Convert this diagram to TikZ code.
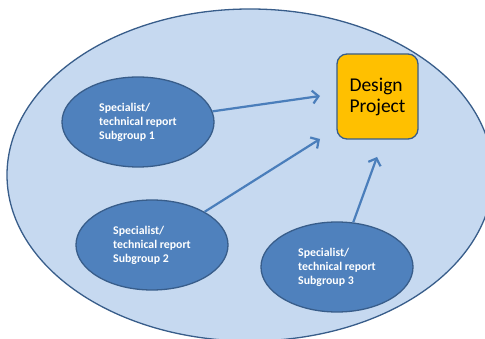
\documentclass[tikz,border=0pt]{standalone}
\usepackage{fontspec}
\setmainfont{Carlito}
\usepackage{tikz}
\usetikzlibrary{shapes.geometric,arrows.meta}

\definecolor{outerfill}{RGB}{198,217,240}
\definecolor{rimblue}{RGB}{56,93,138}
\definecolor{subfill}{RGB}{79,129,189}
\definecolor{arrowblue}{RGB}{74,126,187}
\definecolor{projfill}{RGB}{255,192,0}

\begin{document}
\begin{tikzpicture}[x=1pt,y=-1pt]
    \tikzstyle{outer node}=[ellipse,draw=rimblue,line width=1.3pt,fill=outerfill,minimum width=486pt,minimum height=332pt]
    \tikzstyle{sub node}=[ellipse,draw=rimblue,line width=1.3pt,fill=subfill,minimum width=152pt,minimum height=90pt,
        inner sep=0pt,text=white,font=\bfseries\fontsize{11.8}{14}\selectfont,align=left]
    \tikzstyle{project node}=[rectangle,rounded corners=10pt,draw=rimblue,line width=1.3pt,fill=projfill,
        minimum width=81pt,minimum height=85pt,inner sep=0pt,font=\fontsize{19.5}{21}\selectfont,align=left]
    \tikzstyle{feed}=[draw=arrowblue,line width=2.2pt,-{Straight Barb[length=6pt,width=13pt,line width=2.2pt]}]

    \useasboundingbox (0,0) rectangle (485,339);
    \clip (0,0) rectangle (485,339);
    \fill[white] (0,0) rectangle (485,339);

    \node(0)[outer node] at (250,175){};
    \node(dp)[project node] at (377.5,96.5){Design\\Project};
    \node(1)[sub node] at (138,122){Specialist/\\technical report\\Subgroup 1};
    \node(2)[sub node] at (152,245){Specialist/\\technical report\\Subgroup 2};
    \node(3)[sub node] at (337,267){Specialist/\\technical report\\Subgroup 3};

    \coordinate(t1) at (320,96);
    \coordinate(t2) at (320,139);
    \coordinate(t3) at (377,157);

    \draw[feed] (1) -- (t1);
    \draw[feed] (2) -- (t2);
    \draw[feed] (3) -- (t3);
\end{tikzpicture}
\end{document}
